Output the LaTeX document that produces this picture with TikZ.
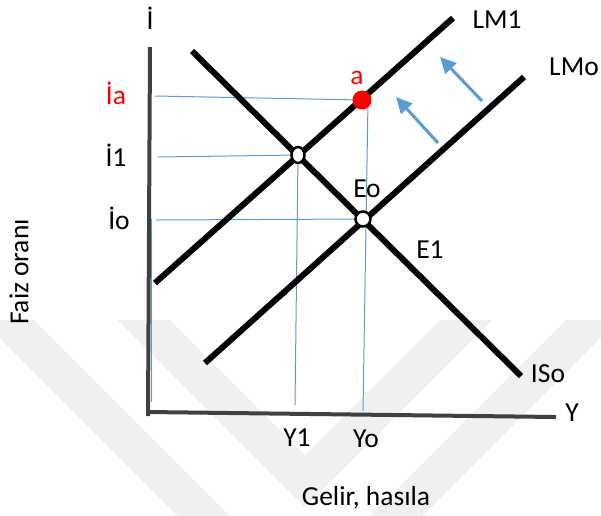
\documentclass[tikz,border=0pt]{standalone}
\usepackage{fontspec}
\setmainfont{Carlito}
\usetikzlibrary{arrows.meta,shapes.geometric}
\definecolor{guideblue}{HTML}{5B9BD5}
\definecolor{axisgray}{HTML}{404040}
\definecolor{wmgray}{HTML}{F0F0F0}
\begin{document}
\begin{tikzpicture}[x=1pt, y=-1pt,
    every node/.style={font=\fontsize{27.5}{32}\selectfont, inner sep=0pt},
    curve/.style={line width=6pt},
    guide/.style={guideblue, line width=1pt},
    shiftarrow/.style={guideblue, line width=3pt, -{Triangle[length=16pt,width=15pt]}},
    eqpt/.style={draw, fill=white, line width=2.5pt, ellipse, minimum width=13pt, minimum height=16pt}]
    \useasboundingbox (0,0) rectangle (601,515);
    \clip (0,0) rectangle (601,515);

    % 背景水印
    \fill[wmgray] (118,320) -- (170,320) -- (305,455) -- (440,320) -- (492,320) -- (305,507) -- cycle;
    \fill[wmgray] (-18,320) -- (34,320) -- (300,586) -- (566,320) -- (618,320) -- (300,638) -- cycle;

    % 坐标轴
    \draw[axisgray, line width=4pt] (150,47) -- (148,416);
    \draw[axisgray, line width=4pt] (148,412) -- (556,417);

    % 均衡点
    \coordinate (a) at (362,100);
    \coordinate (E1) at (298,155);
    \coordinate (Eo) at (363,219);
    \coordinate (Ya) at (363,411);
    \coordinate (Y1) at (295,405);

    % 蓝色辅助线
    \draw[guide] (155,96) -- (a);
    \draw[guide] (368,101) -- (Ya);
    \draw[guide] (158,157) -- (E1);
    \draw[guide] (E1) -- (Y1);
    \draw[guide] (156,220) -- (Eo);
    \draw[guide] (151,219) -- (151,402);
    \draw[guide] (256,315) -- (287,294);

    % LM 曲线与 IS 曲线
    \draw[curve] (155,283) -- (453,18);
    \draw[curve] (205,363) -- (524,77);
    \draw[curve] (192,51) -- (521,376);

    % LM 移动方向
    \draw[shiftarrow] (438,143) -- (396,97);
    \draw[shiftarrow] (482,101) -- (440,57);

    % 交点
    \node[eqpt] (e1pt) at (E1) {};
    \node[eqpt, minimum width=15pt, minimum height=15pt] (eopt) at (Eo) {};
    \fill[red] (a) circle (9.5pt);

    % 标注
    \node (ylab) at (150,18) {İ};
    \node[red] (ialab) at (116,93) {İa};
    \node (i1lab) at (116,155) {İ1};
    \node (iolab) at (119,218) {İo};
    \node[red] (alab) at (357,78) {a};
    \node (lm1lab) at (497,20) {LM1};
    \node (lmolab) at (574,67) {LMo};
    \node (eolab) at (367,189) {Eo};
    \node (e1lab) at (430,250) {E1};
    \node (isolab) at (548,374) {ISo};
    \node (xlab) at (572,413) {Y};
    \node (y1lab) at (297,438) {Y1};
    \node (yolab) at (366,439) {Yo};
    \node (xtitle) at (366,498) {Gelir, hasıla};
    \node[rotate=90] (ytitle) at (19,272) {Faiz oranı};
\end{tikzpicture}
\end{document}
